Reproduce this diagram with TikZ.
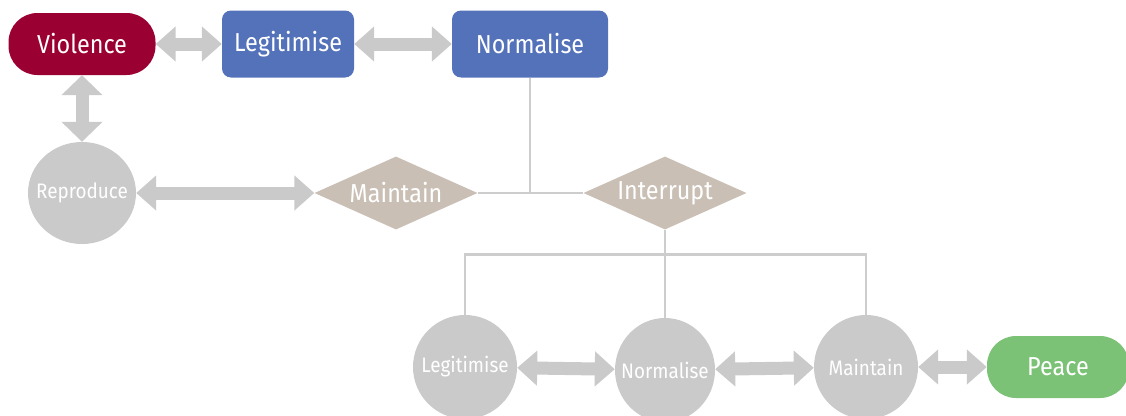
\documentclass[tikz,border=0pt]{standalone}
\usepackage{fontspec}
\setmainfont{Fira Sans}[FakeStretch=0.9]
\usepackage{tikz}
\usetikzlibrary{shapes.geometric,arrows.meta,calc}
\usepackage{xcolor}
\definecolor{violence}{RGB}{155,0,50}
\definecolor{legitblue}{RGB}{84,114,186}
\definecolor{arrowgrey}{RGB}{202,202,202}
\definecolor{linegrey}{RGB}{205,205,205}
\definecolor{taupe}{RGB}{201,191,181}
\definecolor{peace}{RGB}{124,194,118}

\begin{document}
\begin{tikzpicture}[x=1pt, y=-1pt,
    every node/.style={text=white, inner sep=0pt, font=\fontsize{26}{30}\selectfont},
    pill/.style={rectangle, rounded corners=29pt, minimum width=147pt, minimum height=62pt},
    box/.style={rectangle, rounded corners=9pt, fill=legitblue, minimum width=132pt, minimum height=67pt},
    choice/.style={diamond, fill=taupe, minimum width=163pt, minimum height=73pt, label={center:#1}},
    blob/.style={ellipse, fill=arrowgrey, minimum width=104pt, minimum height=104pt,
        label={[font=\fontsize{21}{25}\selectfont]center:#1}},
    fat/.style={draw=arrowgrey, line width=13pt, {Triangle[width=34pt,length=20pt]}-{Triangle[width=34pt,length=20pt]}},
    link/.style={draw=linegrey, line width=2.5pt}]
    \clip (0,0) rectangle (1126,415);
    \useasboundingbox (0,0) rectangle (1126,415);

    \node[pill, fill=violence] (violence) at (82,44) {Violence};
    \node[box] (legit) at (288,44) {Legitimise};
    \node[box, minimum width=156pt] (norm) at (530,44) {Normalise};
    \node[blob=Reproduce, minimum width=108pt, minimum height=102pt] (repro) at (82,193) {};
    \node[choice=Maintain] (maintain) at (396,193) {};
    \node[choice=Interrupt] (interrupt) at (665,193) {};

    \node[blob=Legitimise] (legitb) at (465,367) {};
    \node[blob=Normalise, minimum width=100pt] (normb) at (665,370) {};
    \node[blob=Maintain] (maintb) at (866,367) {};
    \node[pill, fill=peace, minimum width=142pt] (peace) at (1058,367) {Peace};

    \draw[fat] (violence) -- (legit);
    \draw[fat] (legit) -- (norm);
    \draw[fat, {Triangle[width=40pt,length=20pt]}-{Triangle[width=40pt,length=20pt]}] (violence) -- (repro);
    \draw[fat, {Triangle[width=34pt,length=20pt]}-{Triangle[width=34pt,length=20pt]}] (repro) -- (maintain);

    \draw[link] (norm.south) -- (norm.south |- maintain.east);
    \draw[link] (maintain.east) -- (interrupt.west);
    \draw[link] (interrupt.south) -- (normb.north);
    \coordinate (split) at ($(interrupt.south)+(0,25)$);
    \draw[link] (legitb.north) -- (legitb.north |- split) -- (maintb.north |- split) -- (maintb.north);

    \draw[fat] (legitb) -- (normb);
    \draw[fat] (normb) -- (maintb);
    \draw[fat] (maintb) -- (peace);
\end{tikzpicture}
\end{document}
